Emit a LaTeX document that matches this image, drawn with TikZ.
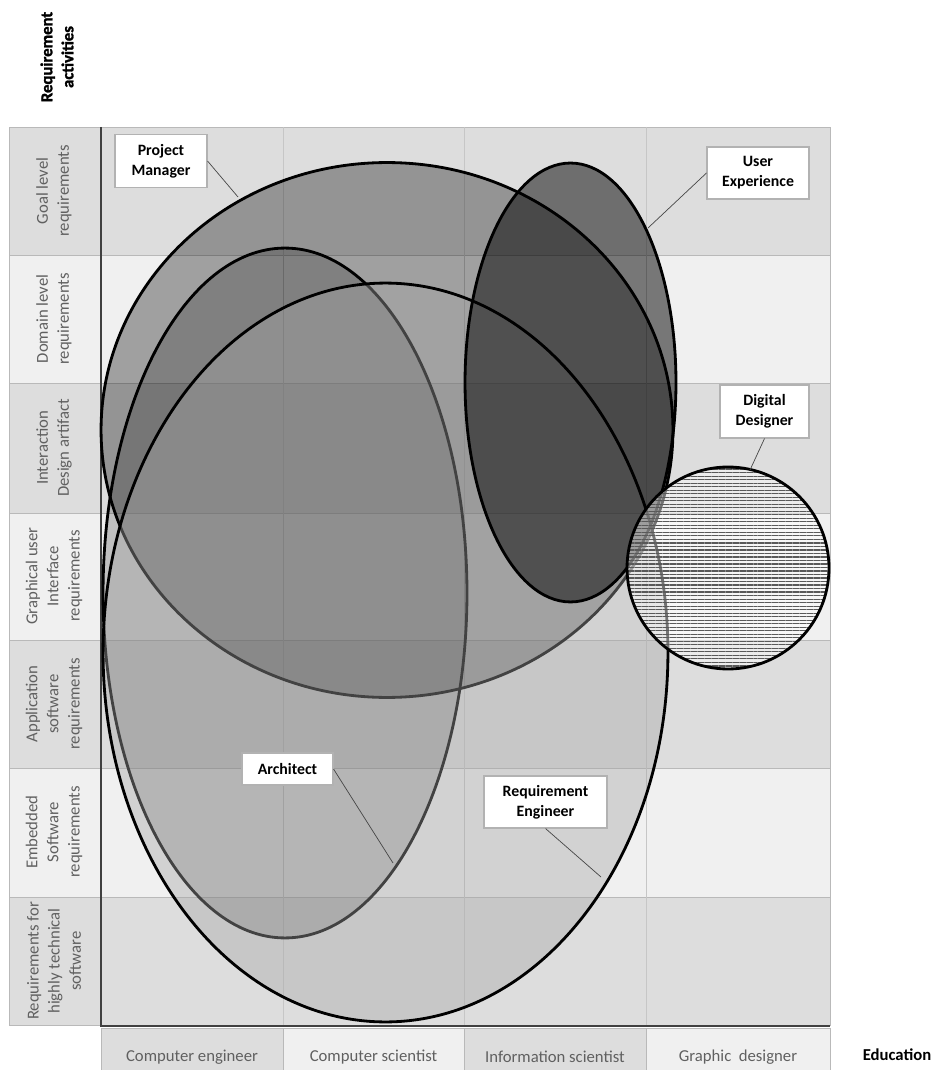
\documentclass[tikz,border=0pt]{standalone}
\usepackage{fontspec}
\setmainfont{Carlito}
\newfontfamily\headfont{Carlito}[FakeBold=1.6]
\usepackage{xcolor}
\usetikzlibrary{positioning,patterns.meta}

\begin{document}
\begin{tikzpicture}[
  x=0.02cm, y=-0.02cm,
  band/.style={draw=gray!55, line width=0.5pt},
  bandA/.style={band, fill=gray!27},
  bandB/.style={band, fill=gray!12},
  rowlab/.style={rotate=90, align=center, font=\fontsize{9.5}{12}\selectfont, text=gray!75!black},
  collab/.style={font=\fontsize{9.5}{12}\selectfont, text=gray!75!black},
  heading/.style={align=center, font=\fontsize{9.5}{12}\selectfont\bfseries},
  vheading/.style={rotate=90, align=center, font=\fontsize{9.5}{12}\selectfont\headfont\bfseries},
  axis/.style={draw=black!75, line width=1.6pt},
  colsep/.style={draw=gray!45, line width=0.4pt},
  zone/.style={draw=black, line width=1.6pt},
  role/.style={draw=gray!60, fill=white, line width=0.6pt, align=center, inner sep=1pt, font=\fontsize{9}{11.5}\selectfont\bfseries},
  lead/.style={draw=gray!55!black, line width=0.4pt}
]

\useasboundingbox (0,0) rectangle (933,1070);

\draw[bandA] (9,127) rectangle (830,255);
\draw[bandB] (9,255) rectangle (830,383);
\draw[bandA] (9,383) rectangle (830,513);
\draw[bandB] (9,513) rectangle (830,640);
\draw[bandA] (9,640) rectangle (830,768);
\draw[bandB] (9,768) rectangle (830,897);
\draw[bandA] (9,897) rectangle (830,1025);

\draw[colsep] (283,127) -- (283,1025);
\draw[colsep] (464,127) -- (464,1025);
\draw[colsep] (646,127) -- (646,1025);

\node[rowlab] (goal) at (54,191) {Goal level\\requirements};
\node[rowlab] (domain) at (54,319) {Domain level\\requirements};
\node[rowlab] (interaction) at (54,448) {Interaction\\Design artifact};
\node[rowlab] (gui) at (54,576) {Graphical user\\Interface\\requirements};
\node[rowlab] (application) at (54,704) {Application\\software\\requirements};
\node[rowlab] (embedded) at (54,832) {Embedded\\Software\\requirements};
\node[rowlab] (technical) at (54,961) {Requirements for\\highly technical\\software};

\draw[bandA] (101,1028) rectangle (283,1072);
\draw[bandB] (283,1028) rectangle (464,1072);
\draw[bandA] (464,1028) rectangle (646,1072);
\draw[bandB] (646,1028) rectangle (830,1072);

\node[collab] (compeng) at (192,1057) {Computer engineer};
\node[collab] (compsci) at (373.5,1057) {Computer scientist};
\node[collab] (infosci) at (555,1057) {Information scientist};
\node[collab] (graphic) at (738,1057) {Graphic\ \ designer};

\node[vheading] (activities) at (57,57) {Requirement\\activities};
\node[heading] (education) at (897,1055) {Education};

\draw[axis] (101,127) -- (101,1026) -- (830,1026);

\draw[zone, fill=black, fill opacity=0.33] (387,430) ellipse [x radius=5.72cm, y radius=5.35cm];
\draw[zone, fill=black, fill opacity=0.2] (285,593) ellipse [x radius=3.64cm, y radius=6.9cm];
\draw[zone, fill=black!35, fill opacity=0.4] (385.5,652.5) ellipse [x radius=5.65cm, y radius=7.39cm];
\draw[zone, fill=black, fill opacity=0.5] (570.5,382.5) ellipse [x radius=2.11cm, y radius=4.39cm];
\fill[white, fill opacity=0.45] (728,568) circle [radius=2.02cm];
\fill[pattern={Lines[angle=0, distance=2pt, line width=0.7pt]}, pattern color=gray!70!black] (728,568) circle [radius=2.02cm];
\draw[zone] (728,568) circle [radius=2.02cm];

\node[role, minimum width=1.84cm, minimum height=1.06cm] (pm) at (161,161) {Project\\Manager};
\node[role, minimum width=2.04cm, minimum height=1.04cm] (ux) at (758,173) {User\\Experience};
\node[role, minimum width=1.78cm, minimum height=1.06cm] (dd) at (764.5,411.5) {Digital\\Designer};
\node[role, minimum width=1.82cm, minimum height=0.64cm] (arch) at (287.5,769) {Architect};
\node[role, minimum width=2.46cm, minimum height=1.04cm] (reqeng) at (545.5,802) {Requirement\\Engineer};

\coordinate (pmtip) at (238,197);
\coordinate (uxtip) at (648,228);
\coordinate (ddtip) at (750,470);
\coordinate (archtip) at (393,863);
\coordinate (reqengtip) at (601,877);

\draw[lead] (pm.east) -- (pmtip);
\draw[lead] (ux.west) -- (uxtip);
\draw[lead] (dd.south) -- (ddtip);
\draw[lead] (arch.east) -- (archtip);
\draw[lead] (reqeng.south) -- (reqengtip);

\end{tikzpicture}
\end{document}
